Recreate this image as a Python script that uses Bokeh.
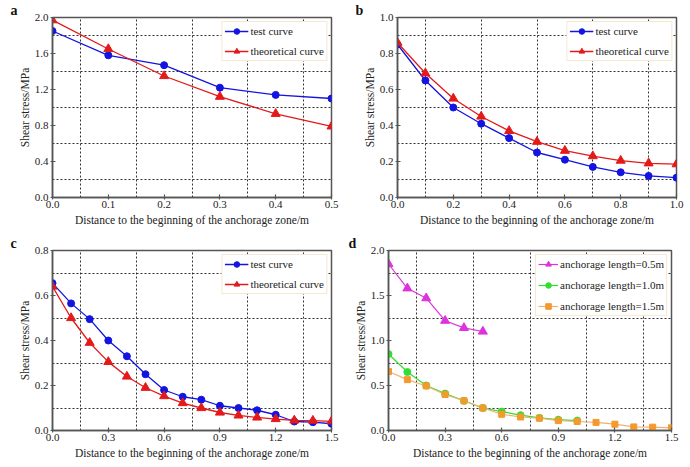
from bokeh.plotting import figure
from bokeh.layouts import column, row
from bokeh.models import (SingleIntervalTicker, FixedTicker, Range1d, Legend,
                          LegendItem, Title, PrintfTickFormatter)
from bokeh.embed import file_html
from bokeh.resources import INLINE

# ---------------- data ----------------
x_a = [0.0, 0.1, 0.2, 0.3, 0.4, 0.5]
test_a = [1.85, 1.58, 1.47, 1.22, 1.14, 1.10]
theory_a = [1.97, 1.65, 1.35, 1.12, 0.93, 0.79]

x_b = [0.0, 0.1, 0.2, 0.3, 0.4, 0.5, 0.6, 0.7, 0.8, 0.9, 1.0]
test_b = [0.85, 0.65, 0.50, 0.41, 0.33, 0.25, 0.21, 0.17, 0.14, 0.12, 0.11]
theory_b = [0.86, 0.69, 0.55, 0.45, 0.37, 0.31, 0.26, 0.23, 0.205, 0.19, 0.185]

x_c = [0.0, 0.1, 0.2, 0.3, 0.4, 0.5, 0.6, 0.7, 0.8, 0.9, 1.0, 1.1, 1.2, 1.3, 1.4, 1.5]
test_c = [0.655, 0.565, 0.495, 0.40, 0.33, 0.25, 0.18, 0.15, 0.137, 0.11, 0.10,
          0.09, 0.07, 0.04, 0.037, 0.03]
theory_c = [0.64, 0.50, 0.39, 0.305, 0.24, 0.19, 0.153, 0.122, 0.10, 0.08, 0.067,
            0.058, 0.051, 0.045, 0.044, 0.041]

x_d05 = [0.0, 0.1, 0.2, 0.3, 0.4, 0.5]
len_05 = [1.85, 1.58, 1.47, 1.22, 1.14, 1.10]
x_d10 = [0.0, 0.1, 0.2, 0.3, 0.4, 0.5, 0.6, 0.7, 0.8, 0.9, 1.0]
len_10 = [0.85, 0.65, 0.50, 0.41, 0.33, 0.25, 0.21, 0.17, 0.14, 0.12, 0.11]
x_d15 = [0.0, 0.1, 0.2, 0.3, 0.4, 0.5, 0.6, 0.7, 0.8, 0.9, 1.0, 1.1, 1.2, 1.3, 1.4, 1.5]
len_15 = [0.655, 0.565, 0.495, 0.40, 0.33, 0.25, 0.18, 0.15, 0.137, 0.11, 0.10,
          0.09, 0.07, 0.04, 0.037, 0.03]

labels_ab = ["test curve", "theoretical curve"]
labels_d = ["anchorage length=0.5m", "anchorage length=1.0m", "anchorage length=1.5m"]
x_title = "Distance to the beginning of the anchorage zone/m"
y_title = "Shear stress/MPa"

FONT = "Liberation Serif"
BLUE = "#1414e0"
RED = "#e41a1a"
AXC = "#555555"


def mids(step, top):
    n = int(round(top / step))
    return [step * (k + 0.5) for k in range(n)]


def make_panel(w, h, borders, xmax, xint, ymax, yint, letter, letter_dx):
    left, right, top, bottom = borders
    p = figure(width=w, height=h, output_backend="svg", toolbar_location=None,
               x_range=Range1d(0, xmax), y_range=Range1d(0, ymax),
               min_border_left=left, min_border_right=right,
               min_border_top=top, min_border_bottom=bottom)
    p.title = Title(text=letter, align="left", offset=letter_dx, standoff=0,
                    text_font=FONT, text_font_style="bold", text_font_size="14px",
                    text_color="#111111", text_line_height=0.9)
    p.outline_line_color = AXC
    p.outline_line_width = 1.5
    p.background_fill_color = "white"
    p.border_fill_color = "white"
    p.xaxis.ticker = SingleIntervalTicker(interval=xint, num_minor_ticks=0)
    p.yaxis.ticker = SingleIntervalTicker(interval=yint, num_minor_ticks=0)
    p.xaxis.formatter = PrintfTickFormatter(format="%.1f")
    p.yaxis.formatter = PrintfTickFormatter(format="%.1f")
    for ax in (p.xaxis[0], p.yaxis[0]):
        ax.axis_line_color = AXC
        ax.axis_line_width = 1.5
        ax.major_tick_line_color = AXC
        ax.major_tick_line_width = 1.2
        ax.major_tick_in = 3
        ax.major_tick_out = 2
        ax.minor_tick_line_color = None
        ax.major_label_text_font = FONT
        ax.major_label_text_font_size = "11px"
        ax.major_label_text_color = "#222222"
        ax.axis_label_text_font = FONT
        ax.axis_label_text_font_size = "11.5px"
        ax.axis_label_text_font_style = "normal"
        ax.axis_label_text_color = "#222222"
    p.xaxis.major_label_standoff = 1
    p.yaxis.major_label_standoff = 2
    p.xaxis.axis_label = x_title
    p.yaxis.axis_label = y_title
    p.xaxis.axis_label_standoff = 3
    p.yaxis.axis_label_standoff = 1
    p.xgrid.ticker = FixedTicker(ticks=mids(xint, xmax))
    p.ygrid.ticker = FixedTicker(ticks=mids(yint, ymax))
    for g in (p.xgrid[0], p.ygrid[0]):
        g.grid_line_color = "#333333"
        g.grid_line_dash = "2 2"
        g.grid_line_width = 1
    return p


def style_legend(p, items, glyph_w, spacing):
    leg = Legend(items=items, location="top_right")
    leg.label_text_font = FONT
    leg.label_text_font_size = "11px"
    leg.label_text_color = "#222222"
    leg.border_line_color = "#f0d2a0"
    leg.border_line_width = 1
    leg.background_fill_alpha = 1
    leg.glyph_width = glyph_w
    leg.glyph_height = 14
    leg.label_height = 14
    leg.label_standoff = 2
    leg.spacing = spacing
    leg.padding = 2
    leg.margin = 4
    p.add_layout(leg)


def two_curves(p, xs, t, th):
    l1 = p.line(xs, t, line_color=BLUE, line_width=1.3)
    m1 = p.scatter(xs, t, marker="circle", size=7, fill_color=BLUE, line_color=BLUE)
    l2 = p.line(xs, th, line_color=RED, line_width=1.3)
    m2 = p.scatter(xs, th, marker="triangle", size=9, fill_color=RED, line_color=RED)
    style_legend(p, [LegendItem(label=labels_ab[0], renderers=[l1, m1]),
                     LegendItem(label=labels_ab[1], renderers=[l2, m2])], 24, 6)


pa = make_panel(345, 233, (52, 14, 14, 36), 0.5, 0.1, 2.0, 0.4, "a", -42)
two_curves(pa, x_a, test_a, theory_a)

pb = make_panel(345, 233, (52, 14, 14, 36), 1.0, 0.2, 1.0, 0.2, "b", -42)
two_curves(pb, x_b, test_b, theory_b)

pc = make_panel(345, 234, (52, 14, 15, 37), 1.5, 0.3, 0.8, 0.2, "c", -42)
two_curves(pc, x_c, test_c, theory_c)

pd = make_panel(345, 234, (43, 19, 16, 37), 1.5, 0.3, 2.0, 0.5, "d", -40)
MAG = "#dd33dd"
GRN = "#33dd33"
ORG = "#f39a2e"
l1 = pd.line(x_d05, len_05, line_color=MAG, line_width=1.2)
m1 = pd.scatter(x_d05, len_05, marker="triangle", size=9, fill_color=MAG, line_color=MAG)
l2 = pd.line(x_d10, len_10, line_color=GRN, line_width=1.2)
m2 = pd.scatter(x_d10, len_10, marker="circle", size=7, fill_color=GRN, line_color=GRN)
l3 = pd.line(x_d15, len_15, line_color="#f2b070", line_width=1.2)
m3 = pd.scatter(x_d15, len_15, marker="square", size=6, fill_color=ORG, line_color=ORG)
style_legend(pd, [LegendItem(label=labels_d[0], renderers=[l1, m1]),
                  LegendItem(label=labels_d[1], renderers=[l2, m2]),
                  LegendItem(label=labels_d[2], renderers=[l3, m3])], 20, 7)

layout = column(row(pa, pb), row(pc, pd))
open("out.html", "w").write(file_html(layout, INLINE))
